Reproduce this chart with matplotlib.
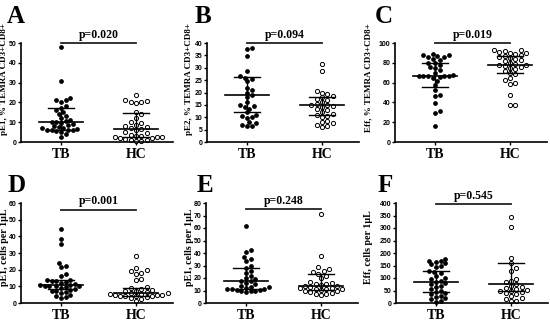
import matplotlib
matplotlib.use('Agg')
import matplotlib.pyplot as plt
import numpy as np

# panel data (TB = filled, HC = open)
a_tb = [48, 31, 22, 21, 21, 20, 18, 17, 16, 15, 14, 13, 12, 11, 10.5, 10, 10, 9.5, 9, 8.5, 8,
        7.5, 7, 7, 6.5, 6, 6, 6, 6, 5.5, 5, 4, 2.5]
a_hc = [23.5, 21, 20.5, 20, 20, 19.5, 15, 14, 12, 10, 9.5, 8.5, 8, 7.5, 7, 6.5, 6, 5, 4.5, 3.5,
        3, 3, 2.5, 2.5, 2.5, 2, 2, 1.5, 1, 1, 0.5, 0.5]
b_tb = [38, 37.5, 34.8, 28.5, 26.5, 26, 25.5, 24.5, 22, 21, 20, 19, 18, 16, 15, 14.5, 14, 13.5,
        12, 11, 10.5, 10, 9.5, 8, 7.5, 7, 6.5, 6.5]
b_hc = [31.5, 28.8, 20.5, 20, 19.5, 18.5, 18, 17.5, 17, 16, 15.5, 15, 15, 14.5, 14, 13.5, 13, 12,
        11.5, 11, 10.5, 10, 8.5, 8, 7.5, 7, 6.5, 6]
c_tb = [89, 88, 88, 87, 86, 86, 84, 83, 80, 80, 78, 76, 75, 73, 70, 68, 67, 67, 67, 66.5, 66.5,
        66, 65, 62, 58, 53, 47, 46, 39, 31, 29, 16]
c_hc = [93, 92.5, 92, 91, 90, 90, 89, 88, 87, 86, 85, 84, 83, 82, 80, 79, 78, 78, 77, 76, 75, 74,
        72, 70, 69, 65, 63, 60, 59, 47, 37.5, 37]
d_tb = [44.5, 38.5, 35.5, 24, 22, 21.5, 17.5, 16, 14, 14, 13.5, 13, 12.5, 12, 11.5, 11, 11, 10.5,
        10.5, 10, 10, 9.5, 9, 8.5, 8, 7.5, 7, 6.5, 6, 5, 4, 3.5, 3]
d_hc = [28.5, 21, 20, 19.5, 18, 17.5, 14.5, 14, 9.5, 9, 8.5, 8, 7.5, 7, 6.5, 6, 6, 5.5, 5.5, 5, 5,
        5, 4.5, 4.5, 4, 4, 3.5, 3, 2.5, 1]
e_tb = [61.5, 42.5, 41, 36.5, 35, 33.5, 30, 28, 26, 24, 22, 20, 19, 18, 17.5, 16, 15, 14, 13, 12.5,
        12, 11.5, 11, 11, 10.5, 10.5, 10, 10, 9.5, 8.5]
e_hc = [71, 37.5, 29, 27, 26, 25, 23.5, 22, 20, 17, 16, 15, 15, 14.5, 14, 13.5, 13, 12, 12, 11.5,
        11, 11, 10.5, 10, 9.5, 9, 8, 7, 7, 6.5]
f_tb = [178, 170, 168, 165, 160, 155, 150, 145, 130, 125, 120, 110, 100, 95, 90, 85, 80, 75, 70,
        65, 55, 50, 45, 40, 35, 30, 25, 20, 15, 10, 5]
f_hc = [345, 303, 180, 160, 140, 130, 95, 90, 85, 75, 70, 65, 60, 55, 52, 50, 48, 45, 40, 35, 30,
        20, 15, 10, 8]

# median, q1, q3 as drawn
a_stats = [(10, 6, 17.3), (6.7, 2.6, 14.6)]
b_stats = [(19, 12, 26.3), (15, 11, 18)]
c_stats = [(67, 56, 80.3), (77.5, 69.7, 86.5)]
d_stats = [(10.6, 8.6, 14), (6, 4.5, 9.3)]
e_stats = [(17.3, 11.5, 27.7), (13.9, 10.5, 23.5)]
f_stats = [(83, 43, 127), (76, 47, 160)]

groups = ['TB', 'HC']
letters = ['A', 'B', 'C', 'D', 'E', 'F']
ylabels = ['pE1, % TEMRA CD3+CD8+', 'pE2, % TEMRA CD3+CD8+', 'Eff, % TEMRA CD3+CD8+',
           'pE1, cells per 1\u00b5L', 'pE1, cells per 1\u00b5L', 'Eff, cells per 1\u00b5L']
pvals = ['p=0.020', 'p=0.094', 'p=0.019', 'p=0.001', 'p=0.248', 'p=0.545']
ytops = [50, 40, 100, 60, 80, 400]
ysteps = [10, 5, 20, 10, 10, 50]
pline_y = [50, 40, 100, 56, 75, 395]

W, H = 550, 321
fig = plt.figure(figsize=(W / 100, H / 100), dpi=100)

# axes boxes in pixels: left, top, bottom
boxes = [(21, 43, 142), (207, 43, 142), (395, 43, 142),
         (21, 203, 303), (206, 203, 303), (396, 203, 303)]
label_x = [-0.088, -0.095, -0.148, -0.079, -0.079, -0.151]
label_y = [0.64, 0.64, 0.65, 0.555, 0.555, 0.555]
label_size = [6.5, 6.5, 6.5, 7.2, 7.2, 7.2]
letter_pos = [(7, 23), (195, 23), (375, 23), (7, 192), (197, 192), (378, 192)]

serif = 'Liberation Serif'
sans = 'Liberation Sans'


def swarm(ax, vals, center, diam):
    # greedy beeswarm in pixel space
    vals = np.asarray(vals, float)
    pix = ax.transData.transform(np.column_stack([np.full(len(vals), center), vals]))
    order = np.argsort(vals)
    placed = []
    xs = np.zeros(len(vals))
    step = diam * 0.55
    for i in order:
        px, py = pix[i]
        k = 0
        while True:
            off = ((k + 1) // 2) * step * (1 if k % 2 == 1 else -1)
            cx = px + off
            if all((cx - qx) ** 2 + (py - qy) ** 2 >= diam ** 2 for qx, qy in placed):
                break
            k += 1
        placed.append((cx, py))
        xs[i] = cx
    inv = ax.transData.inverted()
    return inv.transform(np.column_stack([xs, pix[:, 1]]))[:, 0]


data = [(a_tb, a_hc), (b_tb, b_hc), (c_tb, c_hc), (d_tb, d_hc), (e_tb, e_hc), (f_tb, f_hc)]
stats = [a_stats, b_stats, c_stats, d_stats, e_stats, f_stats]

for i in range(6):
    left, top, bottom = boxes[i]
    ax = fig.add_axes([left / W, 1 - bottom / H, 152 / W, (bottom - top) / H])
    ax.set_xlim(0.467, 2.494)
    ax.set_ylim(0, ytops[i])
    for s in ['top', 'right']:
        ax.spines[s].set_visible(False)
    for s in ['left', 'bottom']:
        ax.spines[s].set_linewidth(1.2)
    ax.set_yticks(np.arange(0, ytops[i] + 1, ysteps[i]))
    ax.set_xticks([1, 2])
    ax.set_xticklabels(groups, fontfamily=serif, fontweight='bold', fontsize=10)
    for t in ax.get_yticklabels():
        t.set_fontfamily(sans)
        t.set_fontweight('bold')
        t.set_fontsize(5)
    ax.tick_params(axis='y', length=2.5, width=1, pad=0.8)
    ax.tick_params(axis='x', length=2.5, width=1, pad=1.5)
    ax.set_ylabel(ylabels[i], fontfamily=serif, fontweight='bold', fontsize=label_size[i])
    ax.yaxis.set_label_coords(label_x[i], label_y[i])

    tb, hc = data[i]
    x_tb = swarm(ax, tb, 1, 4.2)
    x_hc = swarm(ax, hc, 2, 4.8)
    ax.plot(x_tb, tb, 'o', color='black', markersize=2.4, clip_on=False, zorder=2)
    ax.plot(x_hc, hc, 'o', markerfacecolor='white', markeredgecolor='black',
            markersize=3.0, markeredgewidth=0.7, clip_on=False, zorder=2)

    for c, (med, q1, q3) in zip([1, 2], stats[i]):
        ax.plot([c - 0.29, c + 0.29], [med, med], color='black', lw=1.2, zorder=3)
        ax.plot([c, c], [q1, q3], color='black', lw=1.0, zorder=3)
        ax.plot([c - 0.17, c + 0.17], [q1, q1], color='black', lw=1.0, zorder=3)
        ax.plot([c - 0.17, c + 0.17], [q3, q3], color='black', lw=1.0, zorder=3)

    ax.plot([1, 2], [pline_y[i], pline_y[i]], color='#222222', lw=1.3, clip_on=False)
    ax.text(1.5, pline_y[i] + ytops[i] * 0.025, pvals[i], ha='center', va='bottom',
            fontfamily=serif, fontweight='bold', fontsize=8.5)

    lx, ly = letter_pos[i]
    fig.text(lx / W, 1 - ly / H, letters[i], fontfamily=serif, fontsize=18,
             fontweight='bold', va='baseline', ha='left')

plt.savefig('out.png', dpi=100)
